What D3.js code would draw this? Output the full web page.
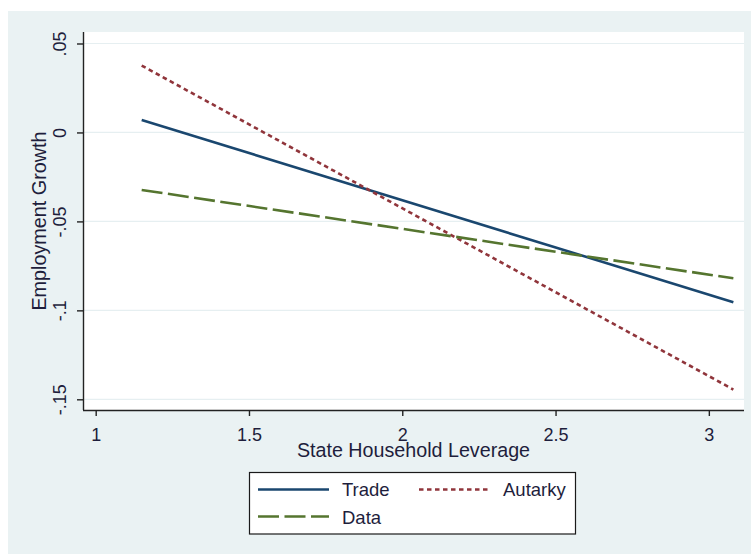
<!DOCTYPE html>
<html>
<head>
<meta charset="utf-8">
<script src="https://cdn.jsdelivr.net/npm/d3@7"></script>
<style>
  html, body { margin: 0; padding: 0; background: #ffffff; }
  svg { display: block; font-family: "Liberation Sans", Arial, sans-serif; }
</style>
</head>
<body>
<svg id="chart" width="751" height="554"></svg>
<script>
// Fitted employment-growth lines against state household leverage
const leverage = [1.15, 3.08];
const trade    = [0.0070, -0.0954];
const autarky  = [0.0376, -0.1445];
const dataFit  = [-0.0323, -0.0820];

const xTicks = [1, 1.5, 2, 2.5, 3];
const xTickLabels = ["1", "1.5", "2", "2.5", "3"];
const yTicks = [0.05, 0, -0.05, -0.1, -0.15];
const yTickLabels = [".05", "0", "-.05", "-.1", "-.15"];

const seriesNames = ["Trade", "Autarky", "Data"];
const seriesValues = [trade, autarky, dataFit];

const colors = { Trade: "#1a476f", Autarky: "#90353b", Data: "#55752f" };
const dashes = { Trade: null, Autarky: "4.5,3.5", Data: "21,5.5" };

const svg = d3.select("#chart");
const W = 751, H = 554;
const plot = { left: 83, right: 744, top: 32, bottom: 410 };

// outer graph region
svg.append("rect").attr("x", 8).attr("y", 11).attr("width", W - 8).attr("height", H - 11)
  .attr("fill", "#eaf2f3");
// plot region
svg.append("rect").attr("x", plot.left).attr("y", plot.top)
  .attr("width", plot.right - plot.left).attr("height", plot.bottom - plot.top)
  .attr("fill", "#ffffff");

const x = d3.scaleLinear().domain([0.9586, 3.1147]).range([plot.left, plot.right]);
const y = d3.scaleLinear().domain([-0.15601, 0.05646]).range([plot.bottom, plot.top]);

// horizontal grid
svg.append("g").selectAll("line").data(yTicks).join("line")
  .attr("x1", plot.left).attr("x2", plot.right)
  .attr("y1", d => y(d)).attr("y2", d => y(d))
  .attr("stroke", "#e6eff1").attr("stroke-width", 1.2);

// y axis
const yAxis = svg.append("g").attr("transform", `translate(${plot.left},0)`)
  .call(d3.axisLeft(y).tickValues(yTicks).tickSize(6).tickPadding(0)
    .tickFormat((d, i) => yTickLabels[i]));
yAxis.select(".domain").attr("d", `M0.5,${plot.top}V${plot.bottom}`)
  .attr("stroke", "#222").attr("stroke-width", 1.4);
yAxis.selectAll(".tick line").attr("stroke", "#222").attr("stroke-width", 1.4);
yAxis.selectAll(".tick text")
  .attr("transform", "rotate(-90)")
  .attr("x", 0).attr("y", -17).attr("dy", 0)
  .attr("text-anchor", "middle")
  .attr("font-size", 18).attr("fill", "#1e1e3c")
  .attr("font-family", "'Liberation Sans', Arial, sans-serif");

// x axis
const xAxis = svg.append("g").attr("transform", `translate(0,${plot.bottom})`)
  .call(d3.axisBottom(x).tickValues(xTicks).tickSize(6).tickPadding(0)
    .tickFormat((d, i) => xTickLabels[i]));
xAxis.select(".domain").attr("d", `M${plot.left},0.5H${plot.right}`)
  .attr("stroke", "#222").attr("stroke-width", 1.4);
xAxis.selectAll(".tick line").attr("stroke", "#222").attr("stroke-width", 1.4);
xAxis.selectAll(".tick text")
  .attr("y", 31).attr("dy", 0)
  .attr("font-size", 18).attr("fill", "#1e1e3c")
  .attr("font-family", "'Liberation Sans', Arial, sans-serif");

// axis titles
svg.append("text")
  .attr("x", (plot.left + plot.right) / 2).attr("y", 457)
  .attr("text-anchor", "middle").attr("font-size", 19.7).attr("fill", "#1e1e3c")
  .text("State Household Leverage");
svg.append("text")
  .attr("transform", `translate(45.5,${(plot.top + plot.bottom) / 2}) rotate(-90)`)
  .attr("text-anchor", "middle").attr("font-size", 19.8).attr("fill", "#1e1e3c")
  .text("Employment Growth");

// fitted lines
const line = d3.line().x(d => x(d[0])).y(d => y(d[1]));
seriesNames.forEach((name, i) => {
  const pts = leverage.map((lv, j) => [lv, seriesValues[i][j]]);
  svg.append("path").datum(pts)
    .attr("d", line)
    .attr("fill", "none")
    .attr("stroke", colors[name])
    .attr("stroke-width", 2.6)
    .attr("stroke-dasharray", dashes[name]);
});

// legend
const lg = svg.append("g");
lg.append("rect").attr("x", 249.5).attr("y", 472.5).attr("width", 326).attr("height", 61.5)
  .attr("fill", "#ffffff").attr("stroke", "#1a1a1a").attr("stroke-width", 1.2);
const legendItems = [
  { name: "Trade",   x1: 258, x2: 329, ly: 489.5, tx: 342, ty: 496 },
  { name: "Autarky", x1: 419, x2: 491, ly: 489.5, tx: 503, ty: 496 },
  { name: "Data",    x1: 258, x2: 329, ly: 516.5, tx: 342, ty: 524 }
];
legendItems.forEach(it => {
  lg.append("line").attr("x1", it.x1).attr("x2", it.x2).attr("y1", it.ly).attr("y2", it.ly)
    .attr("stroke", colors[it.name]).attr("stroke-width", 2.6)
    .attr("stroke-dasharray", dashes[it.name]);
  lg.append("text").attr("x", it.tx).attr("y", it.ty)
    .attr("font-size", 18.5).attr("fill", "#1e1e3c").text(it.name);
});
</script>
</body>
</html>
